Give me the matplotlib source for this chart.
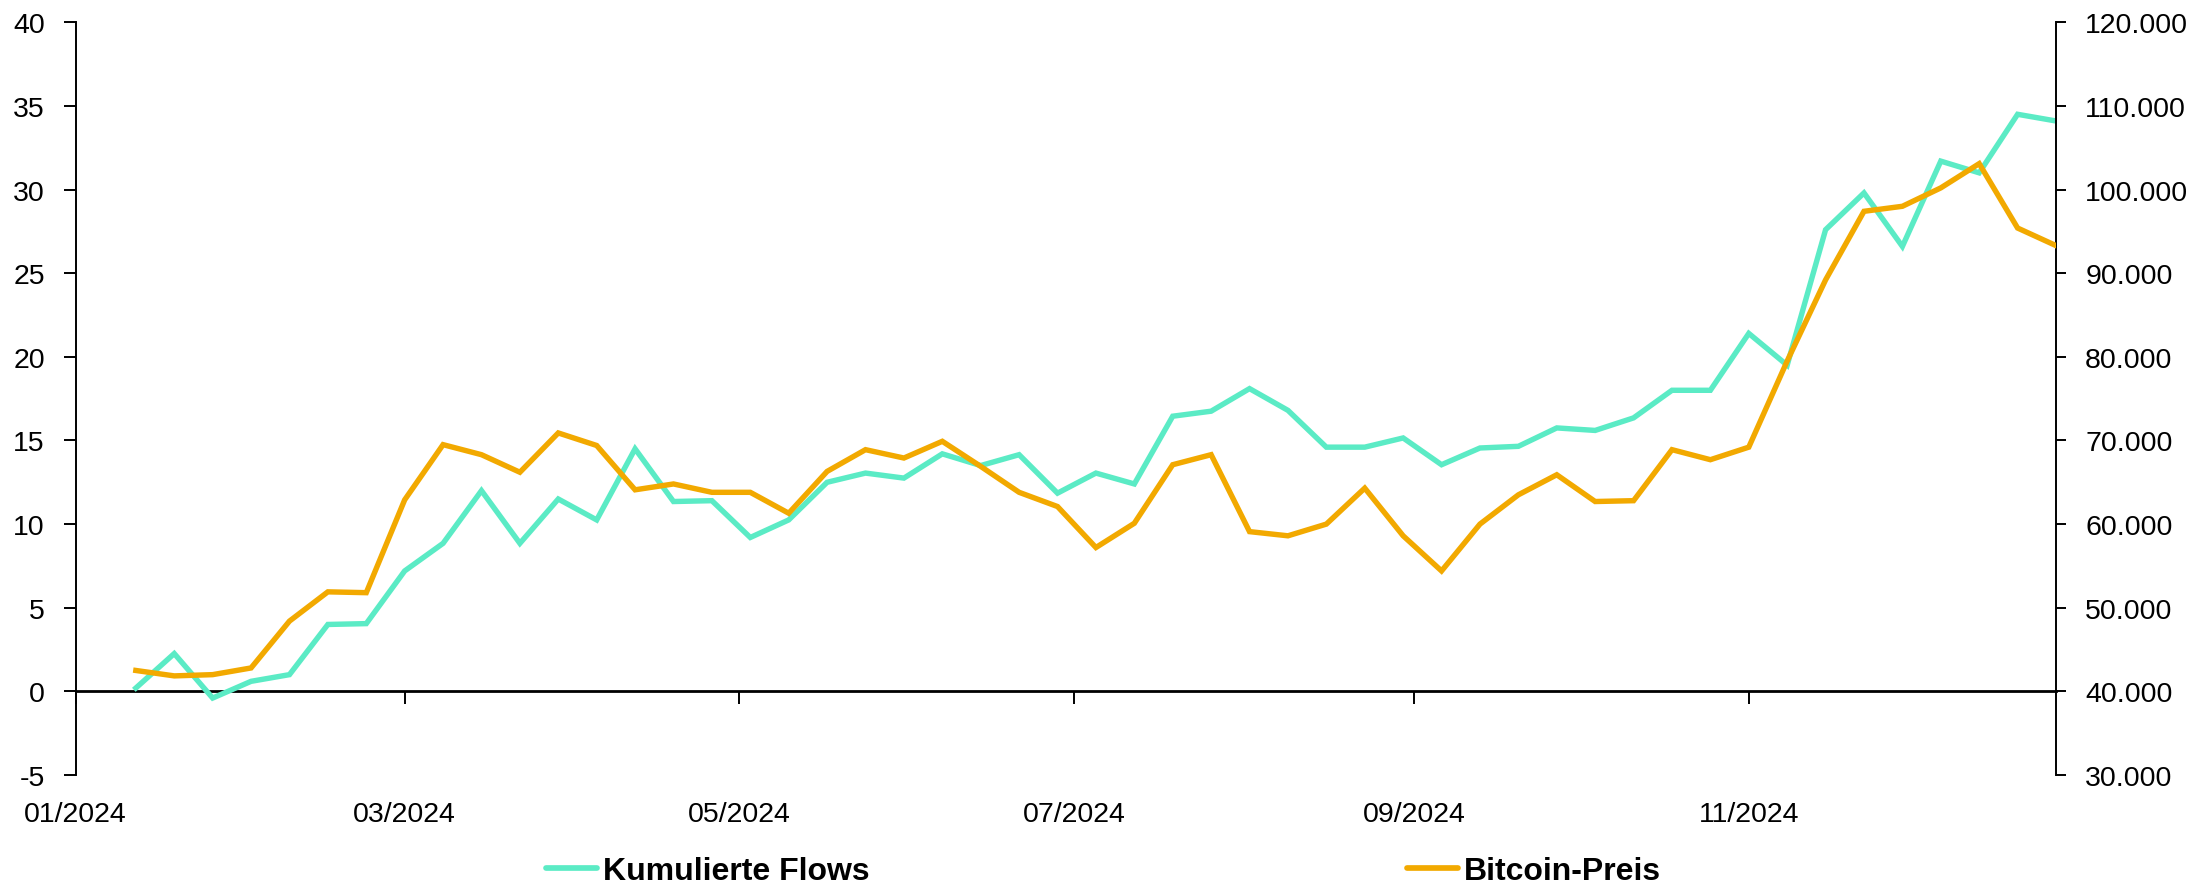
import matplotlib
matplotlib.use("Agg")
import matplotlib.pyplot as plt
import matplotlib.dates as mdates
from matplotlib.ticker import FuncFormatter, MultipleLocator
from matplotlib.lines import Line2D
import pandas as pd

# ---- data ----
dates = pd.date_range("2024-01-12", periods=51, freq="7D")
flows = [0.2, 2.26, -0.4, 0.6, 1.0, 4.0, 4.05, 7.2, 8.85, 12.0,
         8.85, 11.5, 10.25, 14.5, 11.35, 11.4, 9.2, 10.25, 12.5, 13.05,
         12.75, 14.2, 13.5, 14.15, 11.85, 13.05, 12.4, 16.45, 16.75, 18.1,
         16.8, 14.6, 14.6, 15.15, 13.55, 14.55, 14.65, 15.75, 15.6, 16.35,
         18.0, 18.0, 21.4, 19.5, 27.6, 29.8, 26.6, 31.7, 31.0, 34.5, 34.1]
price = [42500, 41850, 42000, 42800, 48400, 51900, 51800, 62900, 69500, 68300,
         66200, 70900, 69400, 64100, 64800, 63800, 63800, 61300, 66300, 68900,
         67900, 69900, 66900, 63800, 62100, 57200, 60100, 67100, 68300, 59100,
         58600, 60000, 64300, 58600, 54400, 60000, 63500, 65900, 62700, 62800,
         68900, 67700, 69200, 79500, 89200, 97400, 98000, 100200, 103100, 95400, 93300]
series_names = ["Kumulierte Flows", "Bitcoin-Preis"]
colors = ["#5BEBC5", "#F2A900"]

plt.rcParams["font.family"] = ["Liberation Sans", "DejaVu Sans"]
plt.rcParams["axes.unicode_minus"] = False

W, H = 2193, 887
fig = plt.figure(figsize=(W / 100, H / 100), dpi=100)
ax = fig.add_axes([75.5 / W, 1 - 776 / H, (2056 - 75.5) / W, (776 - 23.3) / H])
ax2 = ax.twinx()

lw = 3.9
ax.plot(dates, flows, color=colors[0], lw=lw, solid_joinstyle="miter", zorder=3)
ax2.plot(dates, price, color=colors[1], lw=lw, solid_joinstyle="miter", zorder=3)

ax.set_xlim(pd.Timestamp("2024-01-01"), dates[-1])
ax.set_ylim(-5, 40)
ax2.set_ylim(30000, 120000)

ax.yaxis.set_major_locator(MultipleLocator(5))
ax2.yaxis.set_major_locator(MultipleLocator(10000))
ax2.yaxis.set_major_formatter(FuncFormatter(lambda v, p: f"{int(v):,}".replace(",", ".")))

ax.xaxis.set_major_locator(mdates.MonthLocator(bymonth=[1, 3, 5, 7, 9, 11]))
ax.xaxis.set_major_formatter(mdates.DateFormatter("%m/%Y"))

for a in (ax, ax2):
    a.spines["top"].set_visible(False)
    a.patch.set_visible(False)
ax2.spines["bottom"].set_visible(False)
ax2.spines["left"].set_visible(False)
ax.spines["right"].set_visible(False)
ax.spines["bottom"].set_position(("data", 0))
ax.spines["bottom"].set_linewidth(2.0)
ax.spines["left"].set_linewidth(1.4)
ax2.spines["right"].set_linewidth(1.4)

fs = 20.5
ax.tick_params(axis="y", direction="out", length=9, width=1.4, pad=13, labelsize=fs)
ax2.tick_params(axis="y", direction="out", length=7, width=1.4, pad=14, labelsize=fs)
ax.tick_params(axis="x", direction="out", length=9, width=1.4, pad=70, labelsize=fs)

# legends
h1 = [Line2D([], [], color=colors[0], lw=4.1, solid_capstyle="round")]
h2 = [Line2D([], [], color=colors[1], lw=4.1, solid_capstyle="round")]
lp = dict(loc="center left", frameon=False, borderpad=0, borderaxespad=0,
          handlelength=1.6, handletextpad=0.2,
          prop={"size": 23, "weight": "bold"})
fig.legend(h1, [series_names[0]], bbox_to_anchor=(545.5 / W, 1 - 872 / H), **lp)
fig.legend(h2, [series_names[1]], bbox_to_anchor=(1406.8 / W, 1 - 872 / H), **lp)

fig.savefig("out.png", dpi=100)
